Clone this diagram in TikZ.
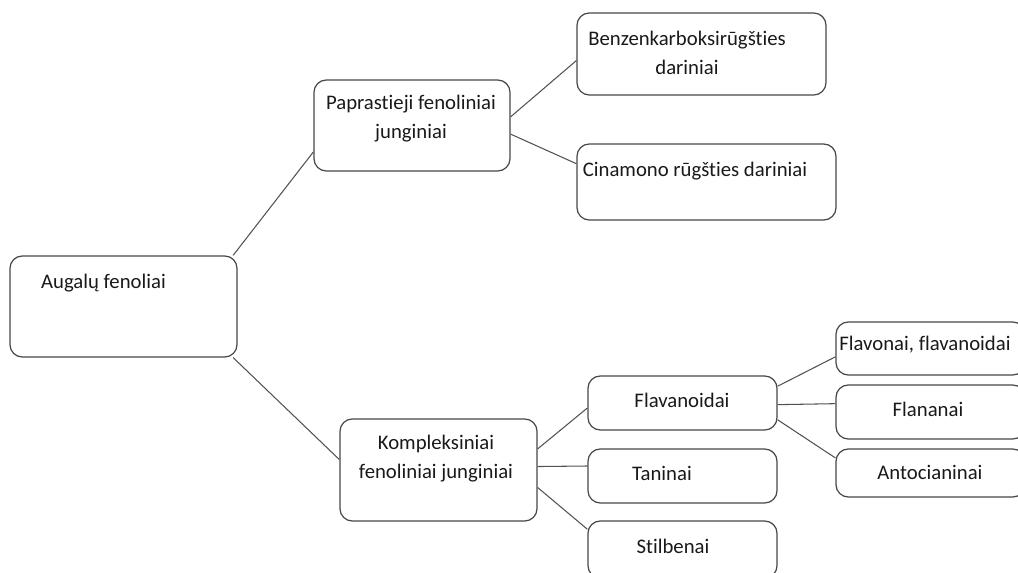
\documentclass[tikz,border=0pt]{standalone}
\usepackage{fontspec}
\setmainfont{Carlito}[Ligatures={NoCommon}]
\usetikzlibrary{fit}
\tikzset{
  kadras/.style={draw=black!72,line width=0.7pt,rounded corners=7pt,inner sep=0pt},
  tekstas/.style={font=\fontsize{11.8}{16.5}\selectfont,align=center,inner sep=0pt,text=black!90},
  jungtis/.style={draw=black!68,line width=0.6pt}
}
\begin{document}
\begin{tikzpicture}[x=0.02cm,y=-0.02cm]
   \useasboundingbox (0,0) rectangle (1018,573);
   \clip (0,0) rectangle (1018,573);
   % boxes
   \node [kadras,fit={(10,256) (237,357)}] (aug) {};
   \node [kadras,fit={(314,80) (510,171)}] (papr) {};
   \node [kadras,fit={(577,13) (826,95)}] (benz) {};
   \node [kadras,fit={(577,144) (836,220)}] (cin) {};
   \node [kadras,fit={(340,419) (537,521)}] (komp) {};
   \node [kadras,fit={(588,376) (777,430)}] (flav) {};
   \node [kadras,fit={(588,449) (777,503)}] (tan) {};
   \node [kadras,fit={(588,521) (777,578)}] (stil) {};
   \node [kadras,fit={(836,322) (1025,375)}] (flavo) {};
   \node [kadras,fit={(836,385) (1025,439)}] (flan) {};
   \node [kadras,fit={(836,449) (1025,497)}] (anto) {};
   % texts
   \node [tekstas] (augt) at (103.5,283) {Augalų fenoliai};
   \node [tekstas] (paprt) at (411,119) {Paprastieji fenoliniai\\junginiai};
   \node [tekstas] (benzt) at (687,53) {Benzenkarboksirūgšties\\dariniai};
   \node [tekstas] (cint) at (695,171) {Cinamono rūgšties dariniai};
   \node [tekstas] (kompt) at (436,459) {Kompleksiniai\\fenoliniai junginiai};
   \node [tekstas] (flavt) at (682,400) {Flavanoidai};
   \node [tekstas] (tant) at (662,473) {Taninai};
   \node [tekstas] (stilt) at (673,546) {Stilbenai};
   \node [tekstas] (flavot) at (925,345) {Flavonai, flavanoidai};
   \node [tekstas] (flant) at (928,409) {Flananai};
   \node [tekstas] (antot) at (930,472) {Antocianinai};
   % connectors
   \draw [jungtis] (aug.25) -- (papr.195);
   \draw [jungtis] (aug.-25) -- (komp.174);
   \draw [jungtis] (papr.5.5) -- (benz.183.7);
   \draw [jungtis] (papr.-5.5) -- (cin.172.5);
   \draw [jungtis] (komp.12.6) -- (flav.183);
   \draw [jungtis] (komp.2) -- (tan.174);
   \draw [jungtis] (komp.-10.9) -- (stil.168.3);
   \draw [jungtis] (flav.10.8) -- (flavo.185.7);
   \draw [jungtis] (flav.-1.2) -- (flan.175.8);
   \draw [jungtis] (flav.-10.2) -- (anto.171.6);
\end{tikzpicture}
\end{document}
